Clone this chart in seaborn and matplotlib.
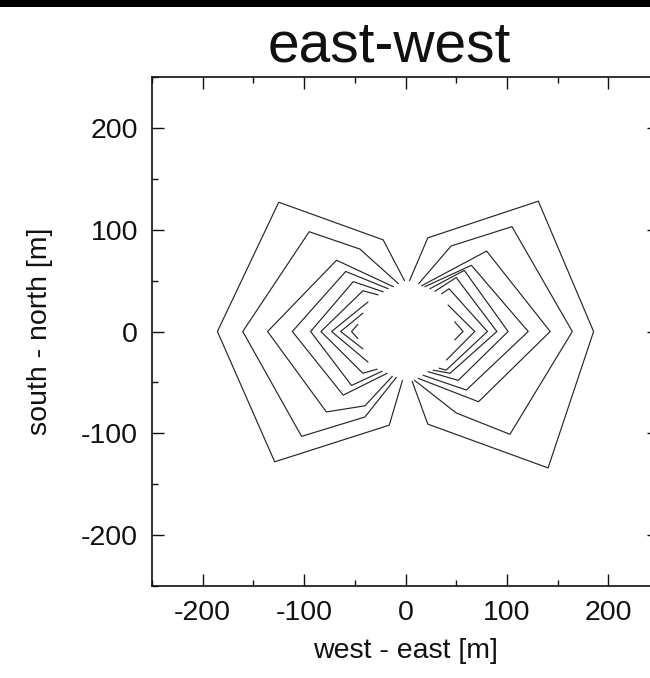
import matplotlib
matplotlib.use("Agg")
import matplotlib.pyplot as plt
import seaborn as sns
import pandas as pd
from matplotlib.ticker import MultipleLocator
from matplotlib.patches import Rectangle

# Isolines of the western lobe (x, y in metres)
west_x = [
    [-1, -22, -125, -185.5, -129, -16, -3],
    [-7, -45, -95, -160.5, -102.5, -40, -9],
    [-12, -68, -136, -78, -40, -13],
    [-17, -59, -111.6, -61.4, -18],
    [-22, -51.5, -93.6, -53.2, -23],
    [-27, -42, -83.4, -42, -28],
    [-37, -72.9, -37],
    [-42, -64.0, -42],
    [-47, -53.2, -47],
]
west_y = [
    [50, 90, 127, 0, -128, -92, -48],
    [47, 81, 98, 0, -103, -84, -45],
    [44, 70, 0, -79, -73, -44],
    [42, 59, 0, -62.5, -41],
    [39, 49, 0, -53, -39],
    [36, 40, 0, -41, -37],
    [29, 0, -30],
    [18, 0, -17],
    [7, 0, -7],
]

# Isolines of the eastern lobe
east_x = [
    [4, 22, 131, 185.5, 140.6, 22, 6.6],
    [13, 45, 105, 164.5, 103, 50, 9],
    [16, 80, 142.7, 72, 12.5],
    [19, 65, 121, 60, 17.4],
    [24, 58, 101.2, 52, 22.4],
    [29, 50, 90.1, 44, 27.3],
    [35.5, 43, 80.8, 40, 33],
    [42, 68.3, 40.4],
    [48.6, 56.8, 48.6],
]
east_y = [
    [50, 92, 128, 0, -134, -91, -49],
    [47, 84, 103, 0, -101, -80, -48],
    [45, 79, 0, -69, -46],
    [44, 65, 0, -57.5, -43],
    [42, 60, 0, -48, -39.5],
    [39.5, 53, 0, -41, -38],
    [37, 42, 0, -38, -36],
    [26, 0, -28],
    [9.5, 0, -8.2],
]

ticks = [-200, -100, 0, 100, 200]

sns.set_theme(style="white")
plt.rcParams["font.family"] = ["Liberation Sans", "DejaVu Sans"]

W, H, DPI = 650, 678, 100
fig = plt.figure(figsize=(W / DPI, H / DPI), dpi=DPI)
fig.patch.set_facecolor("white")
ax = fig.add_axes([152 / W, 92 / H, 507 / W, 509 / H])

rows = []
for k, (xs, ys) in enumerate(zip(west_x, west_y)):
    for i, (x, y) in enumerate(zip(xs, ys)):
        rows.append({"line": f"w{k}", "order": i, "x": x, "y": y})
for k, (xs, ys) in enumerate(zip(east_x, east_y)):
    for i, (x, y) in enumerate(zip(xs, ys)):
        rows.append({"line": f"e{k}", "order": i, "x": x, "y": y})
df = pd.DataFrame(rows)

for name, grp in df.groupby("line", sort=False):
    sns.lineplot(data=grp, x="x", y="y", sort=False, estimator=None,
                 color="#262626", lw=0.85, ax=ax)

ax.set_xlim(-250, 250)
ax.set_ylim(-250, 250)
ax.set_xticks(ticks)
ax.set_yticks(ticks)
ax.set_xticklabels([str(t) for t in ticks])
ax.set_yticklabels([str(t) for t in ticks])
ax.xaxis.set_minor_locator(MultipleLocator(50))
ax.yaxis.set_minor_locator(MultipleLocator(50))
ax.tick_params(which="both", direction="in", top=True, right=True,
               bottom=True, left=True, colors="#111111", width=1.0)
ax.tick_params(which="major", length=8.6, labelsize=20.5, pad=10)
ax.tick_params(which="minor", length=4.3)
for s in ax.spines.values():
    s.set_color("#111111")
    s.set_linewidth(1.2)

ax.set_xlabel("west - east [m]", fontsize=20.5, labelpad=9, color="#111111")
ax.set_ylabel("south - north [m]", fontsize=20.5, labelpad=20, color="#111111")
fig.text(389 / W, 1 - 62 / H, "east-west", fontsize=41, ha="center",
         va="baseline", color="#111111")

# dark band across the top edge
fig.add_artist(Rectangle((0, 1 - 7 / H), 1, 7 / H, transform=fig.transFigure,
                         facecolor="black", edgecolor="none"))

fig.savefig("out.png", dpi=DPI)
